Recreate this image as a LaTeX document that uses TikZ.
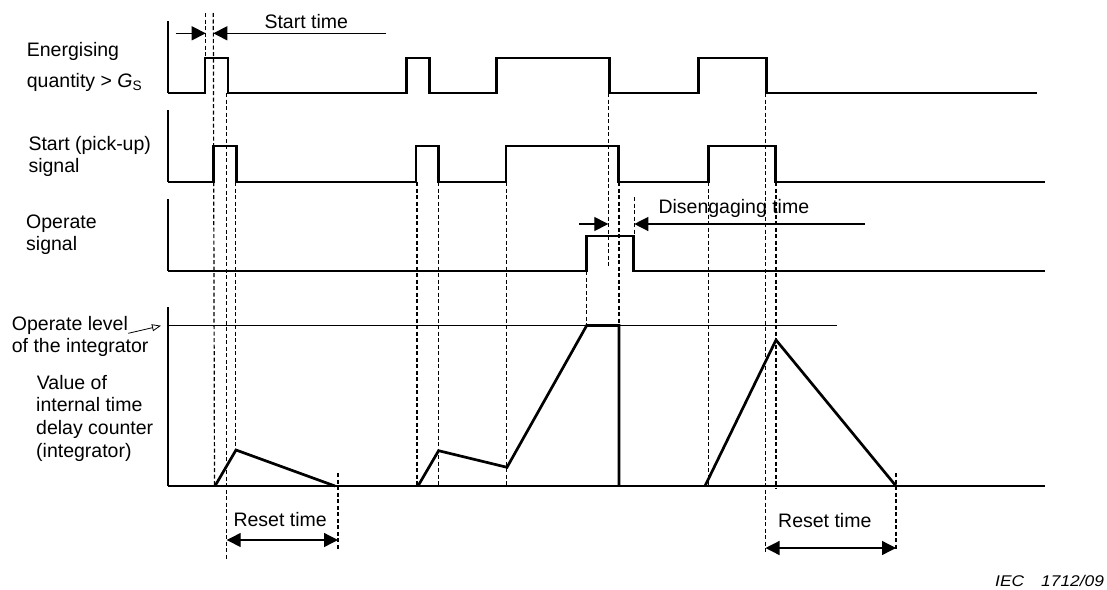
\documentclass[tikz,border=0pt]{standalone}
\usepackage{fontspec}
\setmainfont{Liberation Sans}
\usetikzlibrary{arrows.meta}
\begin{document}
\begin{tikzpicture}[x=1pt,y=-1pt,
  trace/.style={line width=2.7pt, line join=miter},
  level/.style={line width=1.2pt},
  guide/.style={line width=1.2pt, dash pattern=on 4pt off 2.5pt},
  dimline/.style={line width=1.3pt},
  tip/.style={-{Triangle[length=14pt,width=14pt]}},
  bothtips/.style={{Triangle[length=14pt,width=14pt]}-{Triangle[length=14pt,width=14pt]}},
  lbl/.style={anchor=base west, inner sep=0pt, font=\fontsize{19.5}{23}\selectfont},
  tag/.style={anchor=base west, inner sep=0pt, font=\fontsize{15.5}{18}\selectfont\itshape}]
\useasboundingbox (0,0) rectangle (1107,589);

% ---- signal axes ----
\draw[trace] (168,21) -- (168,93);
\draw[trace] (168,110) -- (168,182);
\draw[trace] (168,199) -- (168,271);
\draw[trace] (168,307) -- (168,486);

% ---- energising quantity ----
\draw[trace] (168,93) -- (205,93) -- (205,58) -- (228,58) -- (228,93)
  -- (406.7,93) -- (406.7,58) -- (429.3,58) -- (429.3,93)
  -- (496.7,93) -- (496.7,58) -- (609.3,58) -- (609.3,93)
  -- (698.3,93) -- (698.3,58) -- (766.7,58) -- (766.7,93) -- (1037,93);

% ---- start (pick-up) signal ----
\draw[trace] (168,182) -- (213.3,182) -- (213.3,146) -- (236.7,146) -- (236.7,182)
  -- (416,182) -- (416,146) -- (438.7,146) -- (438.7,182)
  -- (506,182) -- (506,146) -- (618.3,146) -- (618.3,182)
  -- (708.3,182) -- (708.3,146) -- (775.7,146) -- (775.7,182) -- (1045,182);

% ---- operate signal ----
\draw[trace] (168,271) -- (586.7,271) -- (586.7,236) -- (633.3,236) -- (633.3,271) -- (1045,271);

% ---- integrator ----
\draw[level] (168,325.5) -- (836.7,325.5);
\draw[trace] (168,486) -- (1045,486);
\draw[trace] (215,486) -- (236,450) -- (335,486);
\draw[trace] (418,486) -- (438.6,450.7) -- (507,467.3) -- (586.7,325.5) -- (619,325.5) -- (619,486);
\draw[trace] (705,486) -- (776,340) -- (896,486);

% ---- guide lines ----
\draw[guide] (205.7,13) -- (205.7,58);
\draw[guide] (213.3,13) -- (214.5,486);
\draw[guide] (226.7,93) -- (226.7,560);
\draw[guide] (235.5,182) -- (235.5,450);
\draw[guide] (338,473) -- (338,550);
\draw[guide] (417,182) -- (417,486);
\draw[guide] (438.6,182) -- (438.6,486);
\draw[guide] (506.8,182) -- (506.8,486);
\draw[guide] (586.7,271) -- (586.7,325.5);
\draw[guide] (608.3,93) -- (608.3,268);
\draw[guide] (619,182) -- (619,325.5);
\draw[guide] (634.3,197) -- (634.3,236);
\draw[guide] (708.5,182) -- (708.5,486);
\draw[guide] (765.5,93) -- (765.5,552);
\draw[guide] (776,182) -- (776,488);
\draw[guide] (896,473) -- (896,550);

% ---- time dimensions ----
\draw[dimline,tip] (175.7,33.3) -- (205.7,33.3);
\draw[dimline,tip] (385.7,33.3) -- (213.3,33.3);
\node[lbl] (tstart) at (264.3,28.3) {Start time};

\draw[dimline,tip] (579.3,224) -- (608.3,224);
\draw[dimline,tip] (865,224) -- (634.3,224);
\node[lbl] (tdis) at (658.3,213.3) {Disengaging time};

\draw[dimline,bothtips] (226.7,540) -- (338,540);
\node[lbl] (treset1) at (233.3,526.7) {Reset time};
\draw[dimline,bothtips] (765.5,548) -- (896,548);
\node[lbl] (treset2) at (778,527.3) {Reset time};

% ---- signal names ----
\node[lbl] (en1) at (26.7,56) {Energising};
\node[lbl] (en2) at (26.7,87.3) {quantity > \textit{G}\textsubscript{S}};
\node[lbl] (st1) at (28.3,150) {Start (pick-up)};
\node[lbl] (st2) at (28.3,172.7) {signal};
\node[lbl] (op1) at (26,228.3) {Operate};
\node[lbl] (op2) at (26,250.7) {signal};
\node[lbl] (lv1) at (11.7,330.7) {Operate level};
\node[lbl] (lv2) at (11.7,352.7) {of the integrator};
\node[lbl] (va1) at (36.7,389) {Value of};
\node[lbl] (va2) at (36,411.7) {internal time};
\node[lbl] (va3) at (36,434.4) {delay counter};
\node[lbl] (va4) at (36,457) {(integrator)};
\coordinate (lvtip) at (161,325.7);
\draw[line width=0.8pt,-{Triangle[open,length=9pt,width=7pt]}] (128.3,333.3) -- (lvtip);

% ---- figure tag ----
\node[tag] (iec) at (995,586.7) {\scalebox{1.12}[1]{IEC}};
\node[tag] (num) at (1041,586.7) {\scalebox{1.12}[1]{1712/09}};
\end{tikzpicture}
\end{document}
